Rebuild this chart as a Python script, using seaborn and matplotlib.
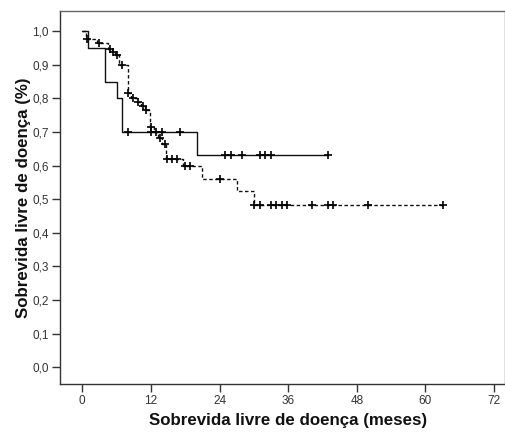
import matplotlib
matplotlib.use("Agg")
import matplotlib.pyplot as plt
import seaborn as sns
import pandas as pd
from matplotlib.ticker import FuncFormatter

# --- data ---
# Group 1 (solid): step curve
solid_t = [0, 1.0, 4.0, 6.0, 7.0, 20.0, 43.0]
solid_s = [1.0, 0.95, 0.85, 0.80, 0.70, 0.63, 0.63]
solid_cens_t = [8, 12, 14, 17, 25, 26, 28, 31, 32, 33, 43]
solid_cens_s = [0.70, 0.70, 0.70, 0.70, 0.63, 0.63, 0.63, 0.63, 0.63, 0.63, 0.63]

# Group 2 (dashed): step curve
dash_t = [0, 0.6, 2.5, 4.5, 5.2, 5.8, 6.5, 8.0, 8.6, 9.5, 10.3, 10.9, 11.8,
          12.5, 13.2, 14.0, 14.6, 17.6, 20.9, 27.0, 30.0, 63.0]
dash_s = [1.0, 0.978, 0.964, 0.947, 0.939, 0.930, 0.900, 0.815, 0.800, 0.789,
          0.777, 0.766, 0.716, 0.700, 0.683, 0.665, 0.621, 0.598, 0.561, 0.524,
          0.482, 0.482]
dash_cens_t = [0.8, 3.0, 4.8, 5.4, 6.1, 6.9, 8.0, 8.9, 9.8, 10.6, 11.1, 12.0,
               12.8, 13.6, 14.4, 14.8, 15.6, 16.5, 18.0, 18.8, 24.0, 30.0, 31.0,
               33.0, 33.9, 34.9, 35.8, 40.1, 43.0, 43.9, 50.0, 63.0]
dash_cens_s = [0.978, 0.964, 0.947, 0.939, 0.930, 0.900, 0.815, 0.800, 0.789,
               0.777, 0.766, 0.716, 0.700, 0.683, 0.665, 0.621, 0.621, 0.621,
               0.598, 0.598, 0.561, 0.482, 0.482, 0.482, 0.482, 0.482, 0.482,
               0.482, 0.482, 0.482, 0.482, 0.482]

x_ticks = [0, 12, 24, 36, 48, 60, 72]
y_ticks = [0.0, 0.1, 0.2, 0.3, 0.4, 0.5, 0.6, 0.7, 0.8, 0.9, 1.0]
x_label = "Sobrevida livre de doença (meses)"
y_label = "Sobrevida livre de doença (%)"

sns.set_theme(style="white")
plt.rcParams['font.family'] = ['Liberation Sans', 'DejaVu Sans']

fig = plt.figure(figsize=(5.06, 4.33), dpi=100)
ax = fig.add_axes([60/506, 1-384/433, 445/506, 373/433])

df_solid = pd.DataFrame({"t": solid_t, "s": solid_s})
df_dash = pd.DataFrame({"t": dash_t, "s": dash_s})
sns.lineplot(data=df_solid, x="t", y="s", ax=ax, drawstyle="steps-post",
             color="#111111", linewidth=1.0, estimator=None, sort=False)
sns.lineplot(data=df_dash, x="t", y="s", ax=ax, drawstyle="steps-post",
             color="#111111", linewidth=1.0, estimator=None, sort=False,
             dashes=False)
ax.lines[-1].set_linestyle((0, (2.5, 1.8)))

df_sc = pd.DataFrame({"t": solid_cens_t, "s": solid_cens_s})
df_dc = pd.DataFrame({"t": dash_cens_t, "s": dash_cens_s})
for d in (df_sc, df_dc):
    sns.scatterplot(data=d, x="t", y="s", ax=ax, marker="+", s=30,
                    color="black", linewidth=1.2, zorder=5)

ax.set_xlim(-3.9, 73.9)
ax.set_ylim(-0.05, 1.06)
ax.set_xticks(x_ticks)
ax.set_yticks(y_ticks)
ax.yaxis.set_major_formatter(FuncFormatter(lambda v, p: f"{v:.1f}".replace(".", ",")))
ax.tick_params(axis="both", which="both", direction="out", length=6, width=1,
               color="#333333", labelsize=8.5, labelcolor="#333333", pad=2,
               bottom=True, left=True, top=False, right=False)
for sp in ax.spines.values():
    sp.set_color("#666666")
    sp.set_linewidth(1.0)
ax.spines["left"].set_color("#333333")
ax.spines["bottom"].set_color("#333333")

ax.set_xlabel(x_label, fontsize=12.2, fontweight="bold", labelpad=4, color="#111111")
ax.xaxis.label.set_x(0.512)
ax.set_ylabel(y_label, fontsize=12.2, fontweight="bold", labelpad=1, color="#111111")

fig.savefig("out.png", dpi=100)
